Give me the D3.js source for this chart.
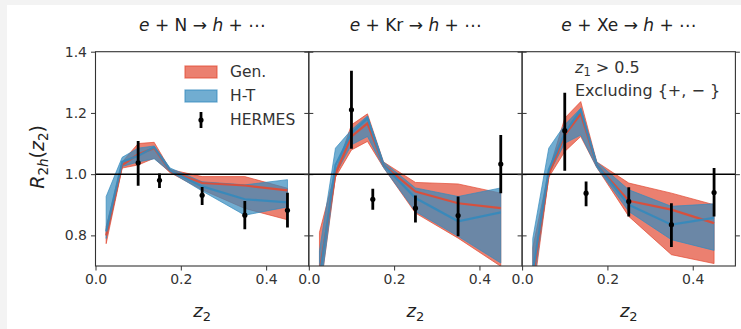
<!DOCTYPE html>
<html><head><meta charset="utf-8">
<script src="https://cdn.jsdelivr.net/npm/d3@7"></script>
<style>
html,body{margin:0;padding:0;background:#f3f3f3;}
svg{display:block;font-family:"DejaVu Sans",sans-serif;}
</style></head>
<body>
<svg id="c" width="741" height="329"></svg>
<script>
// ---- data ----
const zBand = [0.025, 0.0625, 0.1, 0.1375, 0.175, 0.25, 0.35, 0.45];
const genLoN  = [0.773, 1.02, 1.03, 1.052, 1.005, 0.949, 0.888, 0.851];
const genHiN  = [0.829, 1.04, 1.10, 1.104, 1.015, 0.992, 0.992, 0.954];
const genMidN = [0.80, 1.03, 1.065, 1.085, 1.01, 0.971, 0.963, 0.947];
const htLoN   = [0.79, 1.025, 1.04, 1.05, 1.008, 0.945, 0.866, 0.893];
const htHiN   = [0.927, 1.055, 1.085, 1.092, 1.02, 0.975, 0.965, 0.982];
const htMidN  = [0.813, 1.04, 1.06, 1.088, 1.012, 0.96, 0.918, 0.908];

const genLoKr  = [0.60, 0.99, 1.079, 1.107, 1.022, 0.873, 0.791, 0.699];
const genHiKr  = [0.81, 1.01, 1.161, 1.197, 1.04, 0.973, 0.968, 0.938];
const genMidKr = [0.68, 1.0, 1.123, 1.166, 1.03, 0.943, 0.905, 0.889];
const htLoKr   = [0.60, 1.0, 1.096, 1.123, 1.022, 0.878, 0.797, 0.71];
const htHiKr   = [0.75, 1.085, 1.145, 1.19, 1.04, 0.955, 0.927, 0.955];
const htMidKr  = [0.66, 1.03, 1.134, 1.183, 1.03, 0.922, 0.846, 0.875];

const genLoXe  = [0.60, 0.99, 1.074, 1.123, 1.022, 0.862, 0.737, 0.708];
const genHiXe  = [0.76, 1.01, 1.183, 1.237, 1.04, 0.971, 0.938, 0.90];
const genMidXe = [0.66, 1.0, 1.128, 1.197, 1.03, 0.913, 0.884, 0.84];
const htLoXe   = [0.62, 1.0, 1.101, 1.128, 1.022, 0.878, 0.786, 0.751];
const htHiXe   = [0.79, 1.085, 1.161, 1.215, 1.04, 0.949, 0.895, 0.903];
const htMidXe  = [0.68, 1.014, 1.134, 1.21, 1.03, 0.90, 0.835, 0.857];

const hermesZ    = [0.1, 0.15, 0.25, 0.35, 0.45];
const hermesN    = [1.037, 0.980, 0.931, 0.866, 0.882];
const hermesNLo  = [0.962, 0.955, 0.899, 0.820, 0.826];
const hermesNHi  = [1.108, 1.002, 0.958, 0.912, 0.939];
const hermesKr   = [1.210, 0.918, 0.889, 0.865, 1.033];
const hermesKrLo = [1.083, 0.884, 0.842, 0.797, 0.938];
const hermesKrHi = [1.338, 0.952, 0.930, 0.927, 1.128];
const hermesXe   = [1.142, 0.938, 0.911, 0.835, 0.940];
const hermesXeLo = [1.011, 0.895, 0.862, 0.762, 0.862];
const hermesXeHi = [1.266, 0.976, 0.957, 0.905, 1.020];

const targets = ["N", "Kr", "Xe"];
const xTicks = [0.0, 0.2, 0.4];
const yTicks = [0.8, 1.0, 1.2, 1.4];
const legendLabels = ["Gen.", "H-T", "HERMES"];

const panels = [
  {t: targets[0], gLo: genLoN, gHi: genHiN, gMid: genMidN, hLo: htLoN, hHi: htHiN, hMid: htMidN, d: hermesN, dLo: hermesNLo, dHi: hermesNHi},
  {t: targets[1], gLo: genLoKr, gHi: genHiKr, gMid: genMidKr, hLo: htLoKr, hHi: htHiKr, hMid: htMidKr, d: hermesKr, dLo: hermesKrLo, dHi: hermesKrHi},
  {t: targets[2], gLo: genLoXe, gHi: genHiXe, gMid: genMidXe, hLo: htLoXe, hHi: htHiXe, hMid: htMidXe, d: hermesXe, dLo: hermesXeLo, dHi: hermesXeHi}
];

// ---- layout ----
const svg = d3.select("#c");
svg.append("rect").attr("x", 7).attr("y", 5).attr("width", 741).attr("height", 329).attr("fill", "#fff");
const plotL = 95.5, pw = 213.3, plotT = 51.7, plotB = 266;
const RED = "#E24A33", BLUE = "#348ABD", AX = "#333";
const y = d3.scaleLinear().domain([0.7, 1.4]).range([plotB, plotT]);
const defs = svg.append("defs");

panels.forEach((p, i) => {
  const x0 = plotL + i * pw;
  const x = d3.scaleLinear().domain([0, 0.5]).range([x0, x0 + pw]);
  const cid = "clip" + i;
  defs.append("clipPath").attr("id", cid).append("rect")
    .attr("x", x0).attr("y", plotT).attr("width", pw).attr("height", plotB - plotT);
  const g = svg.append("g").attr("clip-path", `url(#${cid})`);
  const idx = d3.range(zBand.length);
  const area = (lo, hi) => d3.area().x(k => x(zBand[k])).y0(k => y(lo[k])).y1(k => y(hi[k]))(idx);
  const line = arr => d3.line().x(k => x(zBand[k])).y(k => y(arr[k]))(idx);
  g.append("path").attr("d", area(p.gLo, p.gHi)).attr("fill", RED).attr("fill-opacity", 0.7)
    .attr("stroke", RED).attr("stroke-opacity", 0.7).attr("stroke-width", 1);
  g.append("path").attr("d", area(p.hLo, p.hHi)).attr("fill", BLUE).attr("fill-opacity", 0.7)
    .attr("stroke", BLUE).attr("stroke-opacity", 0.7).attr("stroke-width", 1);
  g.append("path").attr("d", line(p.gMid)).attr("fill", "none").attr("stroke", RED).attr("stroke-width", 2.2).attr("stroke-opacity", 0.9);
  g.append("path").attr("d", line(p.hMid)).attr("fill", "none").attr("stroke", BLUE).attr("stroke-width", 2.2).attr("stroke-opacity", 0.9);
  g.append("line").attr("x1", x0).attr("x2", x0 + pw).attr("y1", y(1.0)).attr("y2", y(1.0))
    .attr("stroke", "#000").attr("stroke-width", 1.5);
  hermesZ.forEach((z, k) => {
    g.append("line").attr("x1", x(z)).attr("x2", x(z)).attr("y1", y(p.dLo[k])).attr("y2", y(p.dHi[k]))
      .attr("stroke", "#000").attr("stroke-width", 2.8);
    g.append("circle").attr("cx", x(z)).attr("cy", y(p.d[k])).attr("r", 2.6).attr("fill", "#000");
  });
  svg.append("rect").attr("x", x0).attr("y", plotT).attr("width", pw).attr("height", plotB - plotT)
    .attr("fill", "none").attr("stroke", AX).attr("stroke-width", 1.1);
  const xa = svg.append("g").attr("transform", `translate(0,${plotB})`)
    .call(d3.axisBottom(x).tickValues(xTicks).tickFormat(d3.format(".1f")).tickSize(4.5).tickPadding(4));
  xa.select(".domain").remove();
  xa.selectAll("line").attr("stroke", AX);
  xa.selectAll("text").attr("fill", "#333").style("font-size", "14px").style("font-family", "DejaVu Sans");
  const ya = svg.append("g").attr("transform", `translate(${x0},0)`)
    .call(d3.axisLeft(y).tickValues(yTicks).tickFormat(i === 0 ? d3.format(".1f") : () => "").tickSize(4.5).tickPadding(4));
  ya.select(".domain").remove();
  ya.selectAll("line").attr("stroke", AX);
  ya.selectAll("text").attr("fill", "#333").style("font-size", "14px").style("font-family", "DejaVu Sans");
  const yr = svg.append("g").attr("transform", `translate(${x0 + pw},0)`)
    .call(d3.axisRight(y).tickValues(yTicks).tickFormat(() => "").tickSize(4.5));
  yr.select(".domain").remove();
  yr.selectAll("line").attr("stroke", AX);
  const tt = svg.append("text").attr("x", x0 + pw / 2).attr("y", 31).attr("text-anchor", "middle")
    .style("font-size", "17px").attr("fill", "#222");
  tt.append("tspan").style("font-style", "italic").text("e");
  tt.append("tspan").text(" + " + p.t + " \u2192 ");
  tt.append("tspan").style("font-style", "italic").text("h");
  tt.append("tspan").text(" + \u22EF");
  const xl = svg.append("text").attr("x", x0 + pw / 2).attr("y", 317).attr("text-anchor", "middle")
    .style("font-size", "18px").attr("fill", "#222");
  xl.append("tspan").style("font-style", "italic").text("z");
  xl.append("tspan").attr("dy", 4).style("font-size", "13px").text("2");
});

const yl = svg.append("text").attr("transform", `translate(44,${(plotT + plotB) / 2 - 2}) rotate(-90)`)
  .attr("text-anchor", "middle").style("font-size", "19px").attr("fill", "#222");
yl.append("tspan").style("font-style", "italic").text("R");
yl.append("tspan").attr("dy", 4).style("font-size", "13.5px").text("2");
yl.append("tspan").style("font-size", "13.5px").style("font-style", "italic").text("h");
yl.append("tspan").attr("dy", -4).text("(");
yl.append("tspan").style("font-style", "italic").text("z");
yl.append("tspan").attr("dy", 4).style("font-size", "13.5px").text("2");
yl.append("tspan").attr("dy", -4).text(")");

const lg = svg.append("g");
const lx = 185, lw = 32;
[[RED, 66], [BLUE, 90]].forEach(([c, yy]) => {
  lg.append("rect").attr("x", lx).attr("y", yy).attr("width", lw).attr("height", 12)
    .attr("fill", c).attr("fill-opacity", 0.7).attr("stroke", c).attr("stroke-opacity", 0.7).attr("stroke-width", 1.2);
});
lg.append("line").attr("x1", lx + lw / 2).attr("x2", lx + lw / 2).attr("y1", 112).attr("y2", 128)
  .attr("stroke", "#000").attr("stroke-width", 2.8);
lg.append("circle").attr("cx", lx + lw / 2).attr("cy", 120).attr("r", 2.6).attr("fill", "#000");
legendLabels.forEach((t, k) => {
  lg.append("text").attr("x", 230).attr("y", 72 + 24 * k).attr("dy", "0.35em")
    .style("font-size", "15.5px").attr("fill", "#333").text(t);
});

const an = svg.append("g");
const a1 = an.append("text").attr("x", 575).attr("y", 73).style("font-size", "16px").attr("fill", "#333");
a1.append("tspan").style("font-style", "italic").text("z");
a1.append("tspan").attr("dy", 3).style("font-size", "11.5px").text("1");
a1.append("tspan").attr("dy", -3).text(" > 0.5");
an.append("text").attr("x", 575).attr("y", 96).style("font-size", "16px").attr("fill", "#333")
  .text("Excluding {+, \u2212 }");
</script>
</body></html>
